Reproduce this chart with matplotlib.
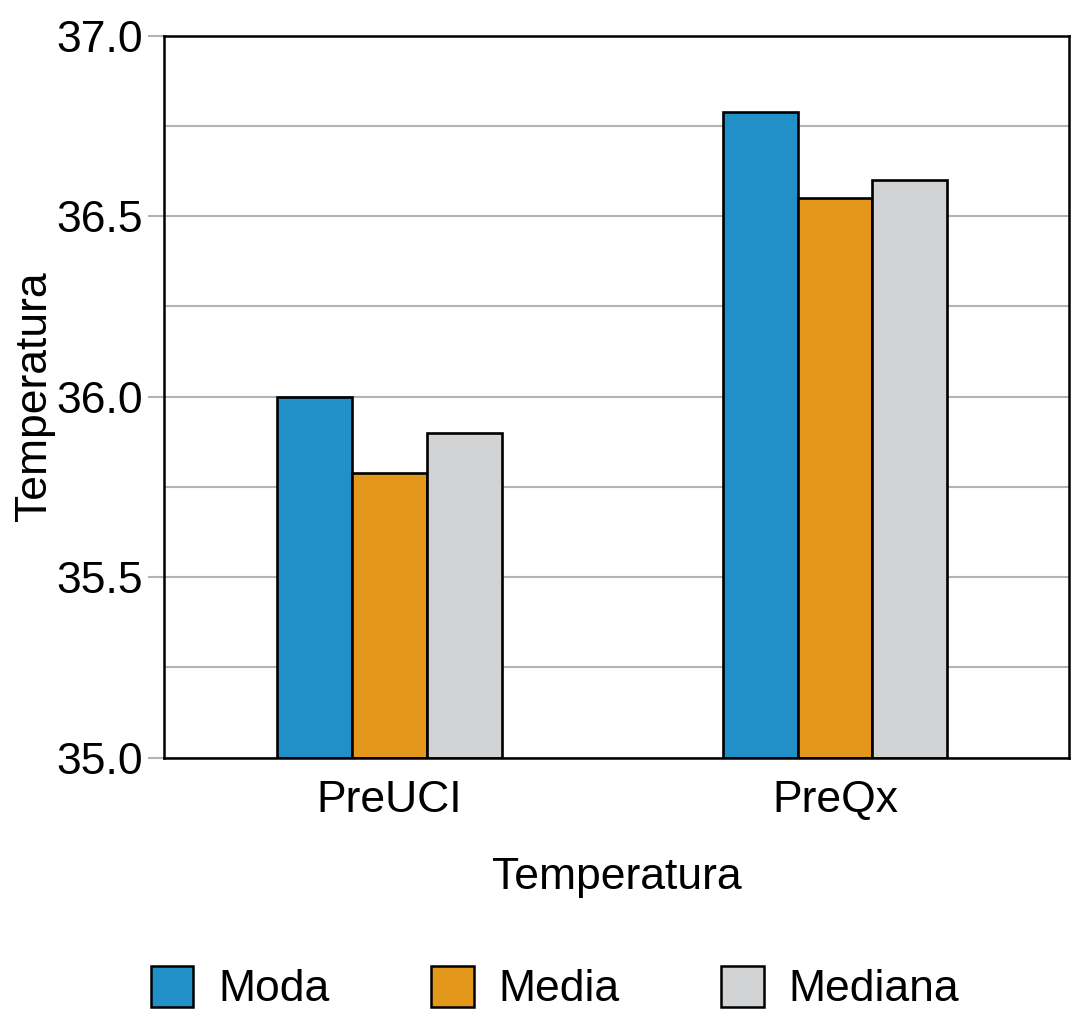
import matplotlib
matplotlib.use("Agg")
import matplotlib.pyplot as plt
import numpy as np

categories = ["PreUCI", "PreQx"]
series_names = ["Moda", "Media", "Mediana"]
moda = [36.0, 36.79]
media = [35.79, 36.55]
mediana = [35.90, 36.60]
y_ticks = [35.0, 35.5, 36.0, 36.5, 37.0]
y_tick_labels = ["35.0", "35.5", "36.0", "36.5", "37.0"]

colors = ["#2190C9", "#E3981C", "#D2D3D5"]

plt.rcParams['font.family'] = ['Liberation Sans Narrow', 'Liberation Sans', 'DejaVu Sans']

fig = plt.figure(figsize=(10.71, 10.24), dpi=100)
ax = fig.add_axes([164/1071, 1-757.7/1024, (1069-164)/1071, (757.7-35.7)/1024])

x = np.arange(len(categories))
w = 0.168
for i, (vals, name) in enumerate(zip([moda, media, mediana], series_names)):
    ax.bar(x + (i-1)*w, np.array(vals) - 35.0, bottom=35.0, width=w, color=colors[i],
           edgecolor="black", linewidth=1.9, label=name, zorder=3)

ax.set_ylim(35.0, 37.0)
ax.set_xlim(-0.506, 1.525)
ax.set_yticks(y_ticks)
ax.set_yticklabels(y_tick_labels)
ax.set_yticks(np.arange(35.25, 37.0, 0.5), minor=True)
ax.grid(axis='y', which='both', color="#b3b3b3", linewidth=1.5, zorder=0)
ax.set_xticks(x)
ax.set_xticklabels(categories)
ax.tick_params(axis='y', which='major', length=11.5, width=1.5, color="#b3b3b3", labelsize=32, pad=4)
ax.tick_params(axis='y', which='minor', length=0)
ax.tick_params(axis='x', length=0, labelsize=32, pad=16)
for s in ax.spines.values():
    s.set_linewidth(1.8)
    s.set_color("black")
    s.set_zorder(4)

fig.text((164+1069)/2/1071, 1-877/1024, "Temperatura", ha="center", va="center", fontsize=32)
fig.text(35/1071, 1-396/1024, "Temperatura", ha="center", va="center", rotation=90, fontsize=32)

leg = fig.legend(loc="center", bbox_to_anchor=(555/1071, 1-988/1024), ncol=3, frameon=False,
                 fontsize=32, handlelength=0.95, handleheight=1.05, handletextpad=0.55,
                 columnspacing=2.3)
for p in leg.get_patches():
    p.set_linewidth(1.8)

fig.savefig("out.png", dpi=100)
